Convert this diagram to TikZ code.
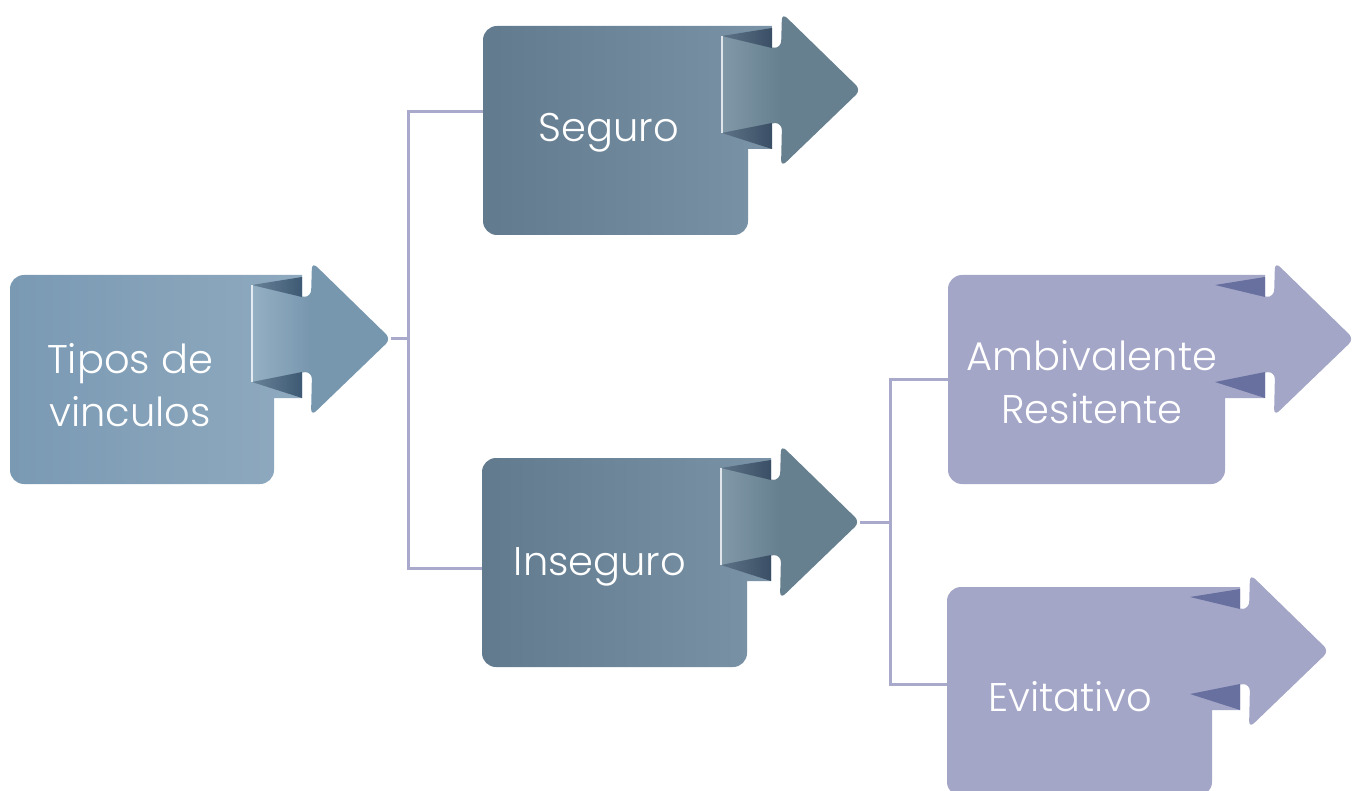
\documentclass[tikz,border=0pt]{standalone}
\usepackage{fontspec}
\setmainfont{Poppins}[UprightFont=* Light]
\usetikzlibrary{calc}

\definecolor{tipL}{HTML}{7A99B3}
\definecolor{tipR}{HTML}{8FAABF}
\definecolor{tipH}{HTML}{7797AF}
\definecolor{tipS}{HTML}{A9BFCF}
\definecolor{tipD}{HTML}{3D5973}
\definecolor{slaL}{HTML}{627A8E}
\definecolor{slaR}{HTML}{7A93A6}
\definecolor{slaH}{HTML}{66808F}
\definecolor{slaS}{HTML}{93A8B8}
\definecolor{slaD}{HTML}{3A4F65}
\definecolor{lavH}{HTML}{A3A6C7}
\definecolor{lavD}{HTML}{6870A0}
\definecolor{linkc}{HTML}{A8A9CB}

\tikzset{
  lbl/.style={text=white,font=\fontsize{40}{53}\selectfont,align=center},
  link/.style={draw=linkc,line width=3},
  blue box/.style={left color=tipL,right color=tipR},
  blue head/.style={fill=tipH},
  blue shaft/.style={left color=tipS!60!tipH,right color=tipH},
  blue fold/.style={left color=tipD!60!tipS,right color=tipD},
  blue edge/.style={draw=white!70!tipS,line width=1.2},
  slate box/.style={left color=slaL,right color=slaR},
  slate head/.style={fill=slaH},
  slate shaft/.style={left color=slaS!60!slaH,right color=slaH},
  slate fold/.style={left color=slaD!60!slaS,right color=slaD},
  slate edge/.style={draw=white!70!slaS,line width=1.2},
  lav box/.style={fill=lavH},
  lav head/.style={fill=lavH},
  lav shaft/.style={fill=lavH},
  lav fold/.style={fill=lavD},
  lav edge/.style={draw=none},
}

% #1 left, #2 top, #3 width, #4 arrow shift, #5 palette, #6 name
\newcommand\ribbon[6]{%
  \pgfmathsetmacro\ribS{#3-22+(#4)}%
  \pgfmathsetmacro\ribF{#3+28+(#4)}%
  \pgfmathsetmacro\ribH{#3+37+(#4)}%
  \pgfmathsetmacro\ribP{#3+117+(#4)}%
  \begin{scope}[shift={(#1,#2)}]
    \path[#5 box] (0,14) arc[start angle=180,end angle=270,radius=14]
      -- (\ribF,0) -- (\ribF,123) -- (#3,123) -- (#3,195)
      arc[start angle=0,end angle=90,radius=14] -- (14,209)
      arc[start angle=90,end angle=180,radius=14] -- cycle;
    \path[#5 head,rounded corners=7] (\ribS,10) -- (\ribF,22) -- (\ribH,22)
      -- (\ribH+1,-13) -- (\ribP,64) -- (\ribH,141) -- (\ribH+1,97)
      -- (\ribF,97) -- (\ribS,107) -- cycle;
    \path[#5 shaft] (\ribS,10) -- (\ribF,22) -- (\ribH,22) -- (\ribH,97)
      -- (\ribF,97) -- (\ribS,107) -- cycle;
    \path[#5 fold] (\ribS,10) -- (\ribF,2) -- (\ribF,22) -- cycle;
    \path[#5 fold] (\ribS,107) -- (\ribF,97) -- (\ribF,123) -- cycle;
    \path[#5 edge] (\ribS,10) -- (\ribS,107);
    \coordinate (#6 tip) at (\ribP,64);
  \end{scope}}

\begin{document}
\begin{tikzpicture}[x=1pt,y=-1pt]
  \useasboundingbox (0,0) rectangle (1362,791);

  % shapes
  \ribbon{10}{275}{264}{0}{blue}{tipos}
  \ribbon{483}{26}{265}{-4}{slate}{seguro}
  \ribbon{482}{458}{265}{-4}{slate}{inseguro}
  \ribbon{948}{275}{277}{12}{lav}{ambiv}
  \ribbon{947}{587}{265}{0}{lav}{evit}

  % labels
  \node[lbl] (tipos) at (130,385) {Tipos de\\vinculos};
  \node[lbl] (seguro) at (609,133) {Seguro};
  \node[lbl] (inseguro) at (600,567) {Inseguro};
  \node[lbl] (ambiv) at (1092,382) {Ambivalente\\Resitente};
  \node[lbl] (evit) at (1070,697) {Evitativo};

  % connectors
  \coordinate (seguro in) at (483,112);
  \coordinate (inseguro in) at (482,568);
  \coordinate (ambiv in) at (948,379);
  \coordinate (evit in) at (947,684);
  \coordinate (forkA) at (408,339);
  \coordinate (forkB) at (890,522);
  \draw[link] (tipos tip) -- (forkA);
  \draw[link] (seguro in) -| (forkA) |- (inseguro in);
  \draw[link] (inseguro tip) -- (forkB);
  \draw[link] (ambiv in) -| (forkB) |- (evit in);
\end{tikzpicture}
\end{document}
